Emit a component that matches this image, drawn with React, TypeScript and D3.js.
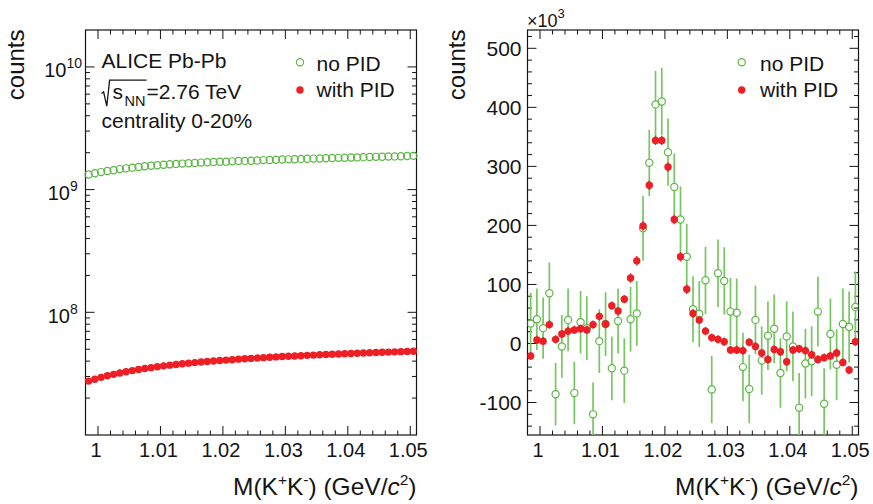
import React from 'react';
import * as d3 from 'd3';

// ---------- data ----------
const massBins: number[] = d3.range(53).map((i) => +(0.9985 + i * 0.001).toFixed(4));

// left panel: raw invariant-mass distributions (counts)
const noPidCounts: number[] = [
  1.33e9, 1.36e9, 1.39e9, 1.42e9, 1.44e9, 1.47e9, 1.49e9, 1.51e9, 1.53e9, 1.55e9,
  1.565e9, 1.58e9, 1.595e9, 1.61e9, 1.62e9, 1.63e9, 1.64e9, 1.65e9, 1.66e9, 1.67e9,
  1.68e9, 1.685e9, 1.69e9, 1.7e9, 1.71e9, 1.715e9, 1.72e9, 1.73e9, 1.74e9, 1.745e9,
  1.75e9, 1.76e9, 1.765e9, 1.77e9, 1.78e9, 1.785e9, 1.79e9, 1.795e9, 1.8e9, 1.81e9,
  1.815e9, 1.82e9, 1.825e9, 1.83e9, 1.84e9, 1.845e9, 1.85e9, 1.855e9, 1.86e9, 1.865e9,
  1.87e9, 1.88e9, 1.885e9,
];
const withPidCounts: number[] = [
  2.75e7, 2.85e7, 2.95e7, 3.04e7, 3.12e7, 3.2e7, 3.28e7, 3.35e7, 3.42e7, 3.48e7,
  3.54e7, 3.6e7, 3.66e7, 3.71e7, 3.76e7, 3.81e7, 3.85e7, 3.89e7, 3.93e7, 3.97e7,
  4.01e7, 4.05e7, 4.08e7, 4.11e7, 4.15e7, 4.18e7, 4.21e7, 4.24e7, 4.27e7, 4.3e7,
  4.33e7, 4.36e7, 4.38e7, 4.41e7, 4.43e7, 4.46e7, 4.48e7, 4.51e7, 4.53e7, 4.55e7,
  4.57e7, 4.6e7, 4.62e7, 4.64e7, 4.66e7, 4.68e7, 4.7e7, 4.72e7, 4.74e7, 4.76e7,
  4.78e7, 4.8e7, 4.82e7,
];

// right panel: background-subtracted (x10^3 counts)
const noPidSignal: number[] = [
  34, 41, 26, 85, -86, -5, 40, -84, 36, 26,
  -120, 4, 33, -42, 38, -46, 41, 51, 195, 306,
  405, 410, 324, 265, 210, 147, 58, 50, 107, -78,
  119, 106, 54, 52, -40, -77, 40, -29, 13, 25,
  -50, 12, -5, -109, -34, -30, 54, -102, 16, -36,
  33, 28, 62,
];
const noPidSignalErr: number[] = [
  52, 52, 52, 52, 53, 53, 53, 53, 53, 54,
  54, 54, 54, 54, 55, 55, 55, 55, 55, 56,
  57, 57, 57, 57, 56, 56, 56, 56, 57, 57,
  57, 57, 57, 58, 58, 58, 58, 58, 58, 58,
  59, 59, 59, 59, 59, 59, 59, 60, 60, 60,
  60, 60, 60,
];
const withPidSignal: number[] = [
  -21, 6, 4, 32, 7, 16, 21, 23, 25, 23,
  32, 46, 33, 64, 55, 75, 111, 140, 199, 268,
  344, 344, 299, 210, 147, 92, 51, 40, 21, 10,
  7, 3, -11, -11, -12, 2, -5, -16, -27, -10,
  -14, -31, -11, -9, -12, -19, -27, -24, -21, -16,
  -32, -45, 3,
];
const withPidSignalErr: number[] = [
  7, 7, 7, 7, 7, 7, 7, 7, 7, 7,
  7, 7, 7, 7, 7, 7, 8, 8, 8, 8,
  8, 8, 8, 8, 8, 8, 8, 7, 7, 7,
  7, 7, 7, 7, 7, 7, 7, 7, 7, 7,
  7, 7, 7, 7, 7, 7, 7, 7, 7, 7,
  7, 7, 7,
];

const xTicks: number[] = [1, 1.01, 1.02, 1.03, 1.04, 1.05];
const xTickLabels: string[] = ['1', '1.01', '1.02', '1.03', '1.04', '1.05'];
const logTicks: number[] = [1e8, 1e9, 1e10];
const logTickExponents: string[] = ['8', '9', '10'];
const linTicks: number[] = [-100, 0, 100, 200, 300, 400, 500];
const legendLabels: string[] = ['no PID', 'with PID'];
const annotationLines: string[] = ['ALICE Pb-Pb', '=2.76 TeV', 'centrality 0-20%'];

// ---------- style ----------
const W = 873;
const H = 504;
const FONT = '"Liberation Sans", Arial, Helvetica, sans-serif';
const GREEN = '#5db646';
const GREEN_BAR = '#78c661';
const RED = '#ec1f26';
const INK = '#141414';

const top = 30;
const bottom = 435;
const leftPanel = { x0: 85.5, x1: 416.5 };
const rightPanel = { x0: 527.5, x1: 858.5 };
const xDomain: [number, number] = [0.998, 1.051];

function xMinorTicks(): number[] {
  const out: number[] = [];
  for (let k = 0; k <= 26; k++) {
    const v = +(0.998 + k * 0.002).toFixed(4);
    if (v <= 1.051 && !xTicks.some((t) => Math.abs(t - v) < 1e-6)) out.push(v);
  }
  return out;
}

function Frame({ x0, x1 }: { x0: number; x1: number }) {
  return <rect x={x0} y={top} width={x1 - x0} height={bottom - top} fill="none" stroke={INK} strokeWidth={1.2} />;
}

function XAxis({ x0, x1 }: { x0: number; x1: number }) {
  const x = d3.scaleLinear().domain(xDomain).range([x0, x1]);
  const minors = xMinorTicks();
  return (
    <g>
      {xTicks.map((t) => (
        <g key={'M' + t}>
          <line x1={x(t)} x2={x(t)} y1={bottom} y2={bottom - 9} stroke={INK} strokeWidth={1} />
          <line x1={x(t)} x2={x(t)} y1={top} y2={top + 9} stroke={INK} strokeWidth={1} />
        </g>
      ))}
      {minors.map((t) => (
        <g key={'m' + t}>
          <line x1={x(t)} x2={x(t)} y1={bottom} y2={bottom - 4.5} stroke={INK} strokeWidth={1} />
          <line x1={x(t)} x2={x(t)} y1={top} y2={top + 4.5} stroke={INK} strokeWidth={1} />
        </g>
      ))}
      {xTicks.map((t, i) => (
        <text key={'l' + t} x={x(t) - 2} y={457} textAnchor="middle" fontSize={20} fontFamily={FONT} fill={INK}>
          {xTickLabels[i]}
        </text>
      ))}
      <text x={x1} y={495} textAnchor="end" fontSize={24.5} fontFamily={FONT} fill={INK}>
        M(K<tspan fontSize={15.5} dy={-10}>+</tspan>
        <tspan dy={10}>K</tspan>
        <tspan fontSize={15.5} dy={-10}>-</tspan>
        <tspan dy={10}>) (GeV/</tspan>
        <tspan fontStyle="italic">c</tspan>
        <tspan fontSize={15.5} dy={-10}>2</tspan>
        <tspan dy={10}>)</tspan>
      </text>
    </g>
  );
}

function YTitle({ x }: { x: number }) {
  return (
    <text transform={`translate(${x},${top - 0.5}) rotate(-90)`} textAnchor="end" fontSize={24} fontFamily={FONT} fill={INK}>
      counts
    </text>
  );
}

function LeftPanel() {
  const { x0, x1 } = leftPanel;
  const x = d3.scaleLinear().domain(xDomain).range([x0, x1]);
  const y = d3.scaleLog().domain([1e7, 2e10]).range([bottom, top]);
  const minorLog: number[] = [];
  for (let d = 7; d <= 10; d++) {
    for (let k = 2; k <= 9; k++) {
      const v = k * Math.pow(10, d);
      if (v < 2e10) minorLog.push(v);
    }
  }
  return (
    <g>
      <Frame x0={x0} x1={x1} />
      <XAxis x0={x0} x1={x1} />
      {logTicks.map((t) => (
        <g key={'M' + t}>
          <line x1={x0} x2={x0 + 9} y1={y(t)} y2={y(t)} stroke={INK} strokeWidth={1} />
          <line x1={x1} x2={x1 - 9} y1={y(t)} y2={y(t)} stroke={INK} strokeWidth={1} />
        </g>
      ))}
      {minorLog.map((t) => (
        <g key={'m' + t}>
          <line x1={x0} x2={x0 + 4.5} y1={y(t)} y2={y(t)} stroke={INK} strokeWidth={1} />
          <line x1={x1} x2={x1 - 4.5} y1={y(t)} y2={y(t)} stroke={INK} strokeWidth={1} />
        </g>
      ))}
      {logTicks.map((t, i) => {
        const ex = 70 - (logTickExponents[i].length - 1) * 3.5;
        return (
          <g key={'l' + t}>
            <text x={ex} y={y(t) + 10.5} textAnchor="end" fontSize={20} fontFamily={FONT} fill={INK}>
              10
            </text>
            <text x={ex} y={y(t) + 1.5} textAnchor="start" fontSize={14} fontFamily={FONT} fill={INK}>
              {logTickExponents[i]}
            </text>
          </g>
        );
      })}
      <YTitle x={23.5} />
      {massBins.map((m, i) => (
        <circle key={'g' + i} cx={x(m)} cy={y(noPidCounts[i])} r={3.6} fill="none" stroke={GREEN} strokeWidth={1.2} />
      ))}
      {massBins.map((m, i) => (
        <circle key={'r' + i} cx={x(m)} cy={y(withPidCounts[i])} r={3.7} fill={RED} />
      ))}
      {/* annotation */}
      <text x={101.5} y={68.3} fontSize={21} fontFamily={FONT} fill={INK}>
        {annotationLines[0]}
      </text>
      <path d="M101.5,93.5 L103.6,91.8 L106.8,106.2 L109.6,80.2 L146.5,80.2" fill="none" stroke={INK} strokeWidth={1.3} />
      <text x={112.5} y={99} fontSize={21} fontFamily={FONT} fill={INK}>
        s
      </text>
      <text x={124.5} y={106} fontSize={14.5} fontFamily={FONT} fill={INK}>
        NN
      </text>
      <text x={146.5} y={99} fontSize={21} fontFamily={FONT} fill={INK}>
        {annotationLines[1]}
      </text>
      <text x={101.5} y={128} fontSize={21} fontFamily={FONT} fill={INK}>
        {annotationLines[2]}
      </text>
      <Legend mx={300} tx={316.5} />
    </g>
  );
}

function Legend({ mx, tx }: { mx: number; tx: number }) {
  return (
    <g>
      <circle cx={mx} cy={62.3} r={3.6} fill="none" stroke={GREEN} strokeWidth={1.2} />
      <text x={tx} y={71.3} fontSize={21} fontFamily={FONT} fill={INK}>
        {legendLabels[0]}
      </text>
      <circle cx={mx} cy={90} r={3.7} fill={RED} />
      <text x={tx} y={97} fontSize={21} fontFamily={FONT} fill={INK}>
        {legendLabels[1]}
      </text>
    </g>
  );
}

function RightPanel() {
  const { x0, x1 } = rightPanel;
  const x = d3.scaleLinear().domain(xDomain).range([x0, x1]);
  const y = d3.scaleLinear().domain([-155, 531]).range([bottom, top]);
  const minorLin: number[] = d3.range(-140, 531, 20).filter((v) => v % 100 !== 0);
  const r = 3.6;
  return (
    <g>
      <defs>
        <clipPath id="rclip">
          <rect x={x0} y={top} width={x1 - x0} height={bottom - top} />
        </clipPath>
      </defs>
      <Frame x0={x0} x1={x1} />
      <XAxis x0={x0} x1={x1} />
      {linTicks.map((t) => (
        <g key={'M' + t}>
          <line x1={x0} x2={x0 + 9} y1={y(t)} y2={y(t)} stroke={INK} strokeWidth={1} />
          <line x1={x1} x2={x1 - 9} y1={y(t)} y2={y(t)} stroke={INK} strokeWidth={1} />
        </g>
      ))}
      {minorLin.map((t) => (
        <g key={'m' + t}>
          <line x1={x0} x2={x0 + 4.5} y1={y(t)} y2={y(t)} stroke={INK} strokeWidth={1} />
          <line x1={x1} x2={x1 - 4.5} y1={y(t)} y2={y(t)} stroke={INK} strokeWidth={1} />
        </g>
      ))}
      {linTicks.map((t) => (
        <text key={'l' + t} x={521.5} y={y(t) + 7.5} textAnchor="end" fontSize={21} fontFamily={FONT} fill={INK}>
          {String(t)}
        </text>
      ))}
      <text x={527} y={26.5} fontSize={18} fontFamily={FONT} fill={INK}>
        ×10<tspan fontSize={13} dy={-9}>3</tspan>
      </text>
      <YTitle x={465} />
      <g clipPath="url(#rclip)">
        {massBins.map((m, i) => {
          const cx = x(m);
          const cy = y(noPidSignal[i]);
          const hi = y(noPidSignal[i] + noPidSignalErr[i]);
          const lo = y(noPidSignal[i] - noPidSignalErr[i]);
          return (
            <g key={'g' + i}>
              <line x1={cx} x2={cx} y1={hi} y2={cy - r} stroke={GREEN_BAR} strokeWidth={1.7} />
              <line x1={cx} x2={cx} y1={cy + r} y2={lo} stroke={GREEN_BAR} strokeWidth={1.7} />
              <circle cx={cx} cy={cy} r={r} fill="none" stroke={GREEN} strokeWidth={1.2} />
            </g>
          );
        })}
        {massBins.map((m, i) => {
          const cx = x(m);
          const cy = y(withPidSignal[i]);
          return (
            <g key={'r' + i}>
              <line x1={cx} x2={cx} y1={y(withPidSignal[i] + withPidSignalErr[i])} y2={y(withPidSignal[i] - withPidSignalErr[i])} stroke={RED} strokeWidth={1.4} />
              <circle cx={cx} cy={cy} r={3.7} fill={RED} />
            </g>
          );
        })}
      </g>
      <Legend mx={741.7} tx={760} />
    </g>
  );
}

export default function App() {
  return (
    <svg
      width={W}
      height={H}
      viewBox={`0 0 ${W} ${H}`}
      style={{ position: 'absolute', left: 0, top: 0, background: '#fff' }}
    >
      <rect x={0} y={0} width={W} height={H} fill="#fff" />
      <LeftPanel />
      <RightPanel />
    </svg>
  );
}
